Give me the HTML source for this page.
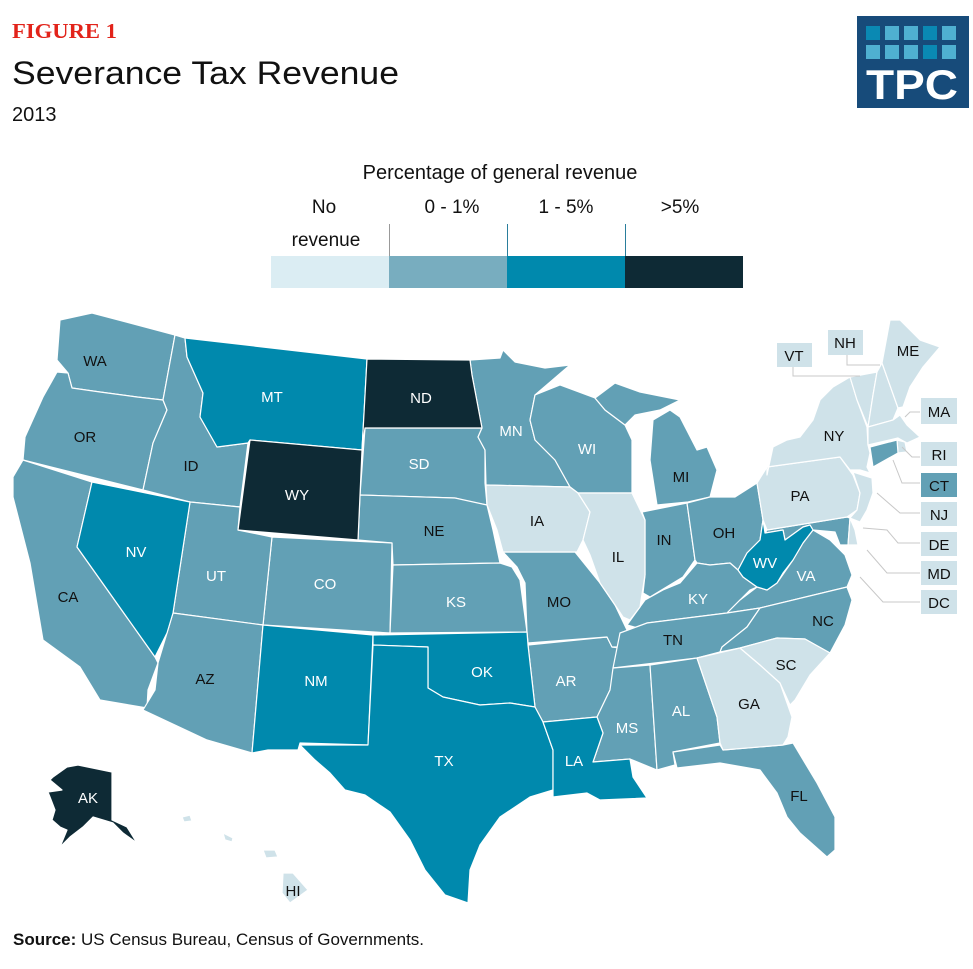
<!DOCTYPE html>
<html><head><meta charset="utf-8"><style>
html,body{margin:0;padding:0;background:#fff;}
body{width:973px;height:969px;overflow:hidden;position:relative;font-family:"Liberation Sans",sans-serif;}
svg{position:absolute;left:0;top:0;}
</style></head><body>
<svg width="973" height="969" viewBox="0 0 973 969" xmlns="http://www.w3.org/2000/svg">
<text x="12" y="38" font-family="Liberation Serif" font-weight="bold" font-size="21" fill="#e2231a" textLength="105" lengthAdjust="spacingAndGlyphs">FIGURE 1</text>
<text x="12" y="84" font-size="32" fill="#111" textLength="387" lengthAdjust="spacingAndGlyphs">Severance Tax Revenue</text>
<text x="12" y="121" font-size="20" fill="#111">2013</text>
<!-- logo -->
<rect x="857" y="16" width="112" height="92" fill="#174b7a"/>
<g fill="#4fb0d1">
<rect x="866" y="26" width="14" height="14" fill="#0a89b3"/><rect x="885" y="26" width="14" height="14"/><rect x="904" y="26" width="14" height="14"/><rect x="923" y="26" width="14" height="14" fill="#0a89b3"/><rect x="942" y="26" width="14" height="14"/>
<rect x="866" y="45" width="14" height="14"/><rect x="885" y="45" width="14" height="14"/><rect x="904" y="45" width="14" height="14"/><rect x="923" y="45" width="14" height="14" fill="#0a89b3"/><rect x="942" y="45" width="14" height="14"/>
</g>
<text x="912" y="99" font-size="42" font-weight="bold" fill="#fff" text-anchor="middle" textLength="92" lengthAdjust="spacingAndGlyphs">TPC</text>
<!-- legend -->
<text x="500" y="179" font-size="20" fill="#111" text-anchor="middle">Percentage of general revenue</text>
<g font-size="19" fill="#111" text-anchor="middle">
<text x="324" y="213">No</text><text x="326" y="246">revenue</text>
<text x="452" y="213">0 - 1%</text><text x="566" y="213">1 - 5%</text><text x="680" y="213">&gt;5%</text>
</g>
<rect x="271" y="256" width="118" height="32" fill="#dbedf3"/>
<rect x="389" y="256" width="118" height="32" fill="#78adbf"/>
<rect x="507" y="256" width="118" height="32" fill="#0089ad"/>
<rect x="625" y="256" width="118" height="32" fill="#0e2a35"/>
<g stroke="#2a7e9c" stroke-width="1"><line x1="389.5" y1="224" x2="389.5" y2="256" stroke="#999"/><line x1="507.5" y1="224" x2="507.5" y2="256"/><line x1="625.5" y1="224" x2="625.5" y2="256"/></g>
<!-- map -->
<g stroke="#fff" stroke-width="1.2" stroke-linejoin="round">
<g fill="#62a0b5">
<polygon points="60,320 92,313 175,335 163,400 137,397 100,392 72,388 68,373 57,360"/>
<polygon points="57,372 68,373 72,388 100,392 137,397 163,400 167,410 153,443 143,490 23,460 25,437 43,397"/>
<polygon points="23,460 92,482 77,547 155,657 158,663 148,690 147,708 100,700 80,667 43,640 30,563 13,497 13,477"/>
<polygon points="175,335 185,338 187,357 203,393 200,417 217,447 248,443 240,507 190,502 143,490 153,443 167,410 163,400"/>
<polygon points="365,428 482,428 478,437 485,450 485,483 487,505 470,502 455,498 360,495"/>
<polygon points="360,495 455,498 487,505 493,530 500,563 393,565 392,543 358,540"/>
<polygon points="272,537 392,543 390,633 263,625"/>
<polygon points="190,502 240,507 238,530 272,537 263,625 173,613"/>
<polygon points="173,613 263,625 252,753 207,740 143,710 155,690 158,663 167,633"/>
<polygon points="393,565 500,563 512,567 520,580 527,632 390,633"/>
<polygon points="528,645 607,637 612,647 620,648 610,690 597,717 543,722 535,707"/>
<polygon points="503,552 575,552 600,583 615,605 627,630 620,647 612,647 607,637 528,643 527,632 525,583 517,567"/>
<polygon points="470,360 500,358 503,350 515,362 545,368 570,365 535,395 530,420 535,440 555,460 570,487 486,485 485,450 478,437 482,428 472,375"/>
<polygon points="535,395 560,385 595,398 605,410 625,425 632,440 632,493 578,493 570,487 555,460 535,440 530,420"/>
<polygon points="595,398 615,383 640,392 680,400 660,410 635,415 625,425 605,410"/>
<polygon points="657,505 650,460 653,420 670,410 680,417 697,450 707,447 717,470 710,497 688,502"/>
<polygon points="642,512 687,503 695,560 683,577 650,597 643,593 645,575 645,520"/>
<polygon points="687,503 710,497 735,497 757,483 763,520 760,540 747,553 738,570 730,563 710,565 697,563 695,560"/>
<polygon points="627,625 645,600 663,590 680,583 697,563 710,565 730,563 738,570 743,577 757,587 750,590 740,600 727,613 647,623 645,630"/>
<polygon points="727,613 740,600 757,587 767,590 777,583 793,560 803,543 813,530 830,540 845,555 852,575 847,587 760,608"/>
<polygon points="620,633 647,623 727,613 760,608 747,627 722,647 720,652 697,658 613,668"/>
<polygon points="720,652 722,647 747,627 760,608 847,587 852,600 845,625 830,653 805,639 777,638 740,648"/>
<polygon points="613,668 650,665 657,770 630,759 593,762 603,733 597,717 610,690"/>
<polygon points="650,665 697,658 717,717 720,743 673,752 675,765 657,770"/>
<polygon points="673,752 720,745 723,750 783,745 793,743 817,783 835,817 835,850 827,857 800,833 787,817 777,793 760,770 720,763 677,768"/>
<polygon points="767,530 847,517 850,518 848,545 840,545 835,532 813,530 810,525 803,527 785,540 783,530 765,533"/>
</g>
<g fill="#0089ad">
<polygon points="92,482 190,502 173,613 167,633 155,657 77,547"/>
<polygon points="185,338 367,359 362,450 250,440 248,443 217,447 200,417 203,393 187,357"/>
<polygon points="263,625 373,635 368,745 300,743 298,750 268,750 252,753"/>
<polygon points="373,635 527,632 528,645 535,707 510,703 480,705 443,697 428,688 428,647 373,645"/>
<polygon points="373,645 428,647 428,688 443,697 480,705 510,703 535,707 543,722 553,750 553,790 530,797 500,817 480,845 470,870 468,903 445,895 425,870 410,840 390,812 365,795 345,790 330,773 315,760 300,745 368,745"/>
<polygon points="543,722 597,717 603,733 593,762 630,759 633,777 647,798 600,800 587,793 553,797 553,750"/>
<polygon points="763,520 765,533 783,530 785,540 803,527 810,525 813,530 803,543 793,560 783,573 777,583 767,590 757,587 743,577 738,570 747,553 760,540"/>
</g>
<g fill="#0e2a35">
<polygon points="367,359 470,360 472,375 482,428 365,428 362,450"/>
<polygon points="250,440 362,450 358,540 238,530"/>
<polygon points="53,777 67,767 78,765 112,772 112,820 127,827 137,843 123,833 113,823 93,817 83,827 70,837 60,847 67,830 60,827 52,820 55,810 50,797 48,792 62,790 50,780"/>
</g>
<g fill="#cfe2e9">
<polygon points="486,485 570,487 578,493 590,512 583,540 577,552 503,552 497,530 487,505"/>
<polygon points="578,493 632,493 645,520 645,575 640,607 630,620 623,617 613,602 600,583 590,555 583,540 590,512"/>
<polygon points="697,658 740,648 760,665 780,683 792,717 788,737 783,745 723,750 720,743 717,717"/>
<polygon points="740,648 777,638 805,639 830,653 810,675 795,700 790,705 780,683 760,665"/>
<polygon points="757,483 767,467 840,457 853,475 860,493 857,510 847,517 767,530 763,520"/>
<polygon points="767,475 773,447 787,440 800,437 813,420 820,400 833,387 850,377 857,400 867,427 868,445 870,453 867,467 870,473 860,470 850,470 840,457 767,467"/>
<polygon points="850,377 877,372 873,395 868,427 857,400"/>
<polygon points="877,372 882,363 898,408 893,420 868,427 873,395"/>
<polygon points="882,363 890,320 900,320 920,340 940,347 923,367 910,387 903,407 898,408"/>
<polygon points="868,427 893,420 900,415 907,425 920,437 907,443 898,438 868,445"/>
<polygon points="897,440 905,442 907,452 898,453"/>
<polygon points="853,472 872,478 873,493 867,510 860,522 850,518 857,510 860,493"/>
<polygon points="850,518 855,530 858,545 848,545"/>
<polygon points="283,873 293,873 308,890 290,903 282,893"/>
<polygon points="263,850 275,850 278,857 266,858"/>
<polygon points="223,833 233,838 232,842 225,840"/>
<polygon points="182,817 190,815 192,821 184,822"/>
</g>
<polygon fill="#62a0b5" points="870,447 897,440 898,453 873,467"/>
</g>
<!-- leader lines -->
<g stroke="#c8c8c8" fill="none" stroke-width="1">
<polyline points="793,367 793,376 860,376"/>
<polyline points="847,355 847,365 880,365"/>
<polyline points="920,412 910,412 905,417"/>
<polyline points="920,457 912,457 902,447"/>
<polyline points="920,483 902,483 893,460"/>
<polyline points="920,513 900,513 877,493"/>
<polyline points="920,543 898,543 887,530 863,528"/>
<polyline points="920,573 887,573 867,550"/>
<polyline points="920,602 883,602 860,577"/>
</g>
<g fill="#cfe2e9">
<rect x="777" y="343" width="35" height="24"/><rect x="828" y="330" width="35" height="25"/>
<rect x="921" y="398" width="36" height="26"/><rect x="921" y="442" width="36" height="24"/>
<rect x="921" y="473" width="36" height="24" fill="#62a0b5"/>
<rect x="921" y="502" width="36" height="24"/><rect x="921" y="532" width="36" height="24"/>
<rect x="921" y="561" width="36" height="24"/><rect x="921" y="590" width="36" height="24"/>
</g>
<g font-size="15" text-anchor="middle" fill="#111">
<text x="794" y="361">VT</text><text x="845" y="348">NH</text>
<text x="939" y="417">MA</text><text x="939" y="460">RI</text><text x="939" y="491">CT</text>
<text x="939" y="520">NJ</text><text x="939" y="550">DE</text><text x="939" y="579">MD</text><text x="939" y="608">DC</text>
<text x="95" y="366">WA</text><text x="85" y="442">OR</text><text x="191" y="471">ID</text>
<text x="68" y="602">CA</text><text x="205" y="684">AZ</text><text x="434" y="536">NE</text>
<text x="559" y="607">MO</text><text x="537" y="526">IA</text><text x="618" y="562">IL</text>
<text x="664" y="545">IN</text><text x="724" y="538">OH</text><text x="681" y="482">MI</text>
<text x="673" y="645">TN</text><text x="823" y="626">NC</text><text x="786" y="670">SC</text>
<text x="749" y="709">GA</text><text x="799" y="801">FL</text><text x="834" y="441">NY</text>
<text x="800" y="501">PA</text><text x="908" y="356">ME</text><text x="293" y="896">HI</text>
</g>
<g font-size="15" text-anchor="middle" fill="#fff">
<text x="272" y="402">MT</text><text x="421" y="403">ND</text><text x="297" y="500">WY</text>
<text x="419" y="469">SD</text><text x="136" y="557">NV</text><text x="216" y="581">UT</text>
<text x="325" y="589">CO</text><text x="456" y="607">KS</text><text x="316" y="686">NM</text>
<text x="482" y="677">OK</text><text x="444" y="766">TX</text><text x="574" y="766">LA</text>
<text x="566" y="686">AR</text><text x="627" y="733">MS</text><text x="681" y="716">AL</text>
<text x="698" y="604">KY</text><text x="806" y="581">VA</text><text x="765" y="568">WV</text>
<text x="511" y="436">MN</text><text x="587" y="454">WI</text><text x="88" y="803">AK</text>
</g>
<text x="13" y="945" font-size="17" fill="#111"><tspan font-weight="bold">Source:</tspan> US Census Bureau, Census of Governments.</text>
</svg>
</body></html>
